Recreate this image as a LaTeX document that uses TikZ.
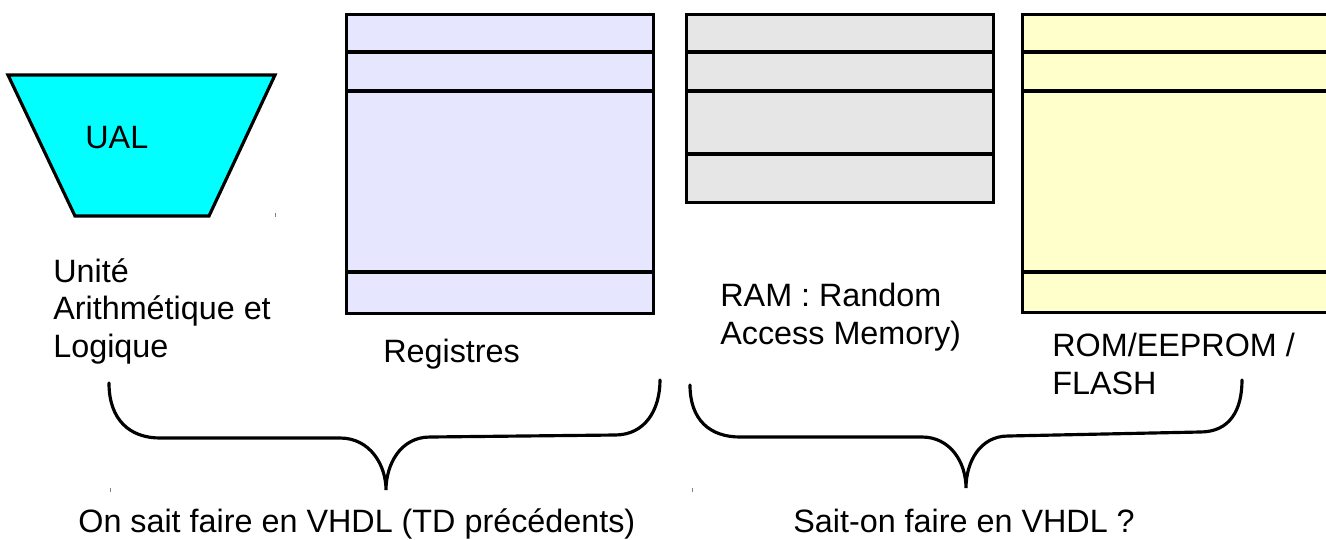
\documentclass[tikz,border=0pt]{standalone}
\usepackage{fontspec}
\setmainfont{Liberation Sans}
\usetikzlibrary{positioning, calc}

\definecolor{ualcyan}{HTML}{00FFFF}
\definecolor{regfill}{HTML}{E6E6FF}
\definecolor{ramfill}{HTML}{E6E6E6}
\definecolor{romfill}{HTML}{FFFFCC}

\begin{document}
\begin{tikzpicture}[
    x=0.02cm, y=-0.02cm,
    font=\fontsize{18.4}{21.3}\selectfont,
    alu/.style={draw, line width=1.8pt, fill=ualcyan, line join=miter},
    memblock/.style={rectangle, draw, line width=1.8pt, anchor=north west, minimum width=6.14cm, inner sep=0pt},
    sepline/.style={line width=1.8pt},
    brace/.style={line width=1.8pt, line cap=round},
    caption/.style={inner sep=0pt, anchor=base west},
    multicaption/.style={inner sep=0pt, anchor=north west, align=left},
    tick/.style={gray, line width=0.5pt}
]
\clip (0,0) rectangle (1326,539);

% 1. UAL (trapezium)
\draw[alu] (8,75) -- (275,75) -- (209,216) -- (75,216) -- cycle;
\node[inner sep=0pt, anchor=base west] (ual) at (85,148) {UAL};
\node[multicaption] (ualtxt) at (53,258) {Unit\'e\\Arithm\'etique et\\Logique};

% 2. Memories
\node[memblock, fill=regfill, minimum height=5.98cm] (reg) at (345,13) {};
\node[memblock, fill=ramfill, minimum height=3.76cm] (ram) at (685,13) {};
\node[memblock, fill=romfill, minimum height=5.96cm, minimum width=6.6cm] (rom) at (1021,13) {};

\foreach \off in {39,78,259}
    \draw[sepline] ($(reg.north west)+(0,\off)$) -- ($(reg.north east)+(0,\off)$);
\foreach \off in {39,78,141}
    \draw[sepline] ($(ram.north west)+(0,\off)$) -- ($(ram.north east)+(0,\off)$);
\foreach \off in {39,78,259}
    \draw[sepline] ($(rom.north west)+(0,\off)$) -- ($(rom.north east)+(0,\off)$);

\node[caption] (regtxt) at (383,362) {Registres};
\node[multicaption] (ramtxt) at (720,283) {RAM : Random\\Access Memory)};
\node[multicaption] (romtxt) at (1052,333) {ROM/EEPROM /\\FLASH};

% 3. Braces
\draw[brace] (109,383) .. controls (109,420) and (130,438) .. (160,438) -- (340,438)
    .. controls (370,438) and (386,465) .. (386,490)
    .. controls (386,465) and (400,437) .. (430,437) -- (615,435)
    .. controls (645,435) and (660,410) .. (660,380);
\draw[brace] (690,385) .. controls (690,420) and (710,437) .. (740,437) -- (922,437)
    .. controls (950,437) and (966,462) .. (966,488)
    .. controls (966,462) and (980,436) .. (1008,436) -- (1200,432)
    .. controls (1230,432) and (1242,410) .. (1242,380);

\node[caption] (known) at (78,532) {On sait faire en VHDL (TD pr\'ec\'edents)};
\node[caption] (unknown) at (793,532) {Sait-on faire en VHDL ?};

% small marks
\draw[tick] (275,213) -- (275,217);
\draw[tick] (110,488) -- (110,492);
\draw[tick] (692,488) -- (692,492);

\end{tikzpicture}
\end{document}
